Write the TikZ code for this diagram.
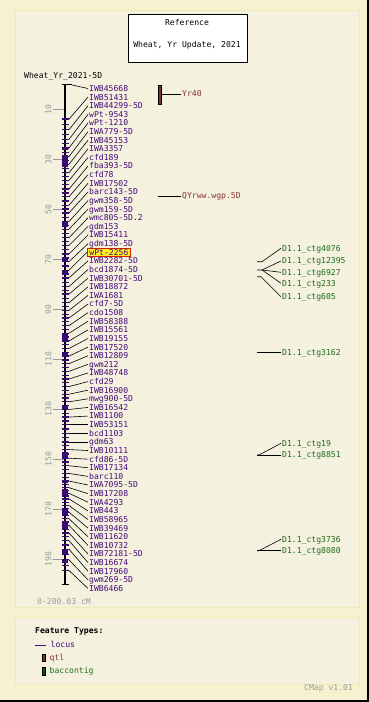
\documentclass[tikz,border=0pt]{standalone}
\usepackage{fontspec}
\newfontfamily\cmapfont{DejaVu Sans Mono}
\definecolor{bgout}{HTML}{F6F2CF}
\definecolor{bgin}{HTML}{F4F2DE}
\definecolor{pborder}{HTML}{F0EAB4}
\definecolor{locus}{HTML}{44087A}
\definecolor{locustick}{HTML}{3A0A70}
\definecolor{qtltext}{HTML}{8B3030}
\definecolor{qtlbar}{HTML}{6E3A32}
\definecolor{bactext}{HTML}{1E6B1E}
\definecolor{bacbar}{HTML}{1C4A1C}
\definecolor{scalegray}{HTML}{999999}
\definecolor{hlyellow}{HTML}{FFEE22}
\definecolor{hlred}{HTML}{CC2200}
\begin{document}
\def\dlist{{-3.5,22,24,25,25,25,24,24,23,23,22,22,21,21,20,20,19,19,18,18,17,17,16,16,15,14,13,12,11,10,9,8,7,6,5,4,3,2,1,0,0,0,-1,-1,-2,-3,-4,-6,-9,-12,-14,-16,-18,-20,-21,-22,-22,-20,-18}}
\begin{tikzpicture}[x=1pt,y=-1pt,
  every node/.style={font=\cmapfont\fontsize{8.1}{9}\selectfont},
  lab/.style={text=locus, inner xsep=1pt, inner ysep=0pt, text height=5.8pt, text depth=0pt},
  hl/.style={lab, draw=hlred, fill=hlyellow, line width=0.9pt, inner xsep=2pt, inner ysep=1pt},
  qlab/.style={lab, text=qtltext},
  blab/.style={lab, text=bactext},
  conn/.style={black, line width=0.6pt},
  ltick/.style={locustick, line width=1.3pt},
  sclab/.style={text=scalegray, inner sep=0pt, rotate=90},
  panel/.style={fill=bgin, draw=pborder, line width=1pt}]
% background and panels
\fill[bgout] (0,0) rectangle (369,702);
\fill[black] (367,0) rectangle (369,702);
\fill[black] (0,700) rectangle (369,702);
\draw[panel] (15,10) rectangle (359,607);
\draw[panel] (15,617) rectangle (359,684);
% title
\node[draw=black, fill=white, line width=0.8pt, minimum width=119pt, minimum height=48pt, inner sep=0pt] (title) at (187.5,38) {};
\node[inner sep=0pt] (t1) at (187,22.7) {Reference};
\node[inner sep=0pt] (t2) at (187,45) {Wheat, Yr Update, 2021};
\node[anchor=west, inner sep=0pt] (mapname) at (24,76.7) {Wheat\_Yr\_2021-5D};
% scale ticks
\foreach \v in {10,30,...,190}{
  \pgfmathsetmacro\yy{84.3+2.5*\v}
  \coordinate (sa\v) at (53,\yy);
  \coordinate (sb\v) at (65,\yy);
  \draw[scalegray, line width=0.7pt] (sa\v) -- (sb\v);
  \node[sclab] (sl\v) at (48.5,\yy) {\v};
}
% chromosome
\coordinate (ctop) at (65,84.5);
\coordinate (cbot) at (65,584.3);
\draw[black, line width=1.8pt] (ctop) -- (cbot);
\draw[black, line width=1.2pt] (61.5,84.5) -- (72,84.5);
\draw[black, line width=1.2pt] (61.5,584.3) -- (68.5,584.3);
% blocks of dense loci
\foreach \a/\b in {147/150,155/167,221/227,258/261,270/273,333/340,352/357,405/410,452/458,480/483,489/495,508/516,523/530,550/555,560/563}{
  \fill[locustick] (61.8,\a) rectangle (68.2,\b);
}
% loci
\foreach \t [count=\i from 0] in {IWB45668,IWB51431,IWB44299-5D,wPt-9543,wPt-1210,IWA779-5D,IWB45153,IWA3357,cfd189,fba393-5D,cfd78,IWB17502,barc143-5D,gwm358-5D,gwm159-5D,wmc805-5D.2,gdm153,IWB15411,gdm138-5D,wPt-2256,IWB2282-5D,bcd1874-5D,IWB30701-5D,IWB18872,IWA1681,cfd7-5D,cdo1508,IWB58388,IWB15561,IWB19155,IWB17520,IWB12809,gwm212,IWB48748,cfd29,IWB16900,mwg900-5D,IWB16542,IWB1100,IWB53151,bcd1103,gdm63,IWB10111,cfd86-5D,IWB17134,barc110,IWA7095-5D,IWB17208,IWA4293,IWB443,IWB58965,IWB39469,IWB11620,IWB10732,IWB72181-5D,IWB16674,IWB17960,gwm269-5D,IWB6466}{
  \pgfmathsetmacro\L{88.5+8.62*\i}
  \pgfmathsetmacro\P{\L+\dlist[\i]}
  \ifnum\i=0 \def\px{72}\else\def\px{69}\fi
  \coordinate (p\i) at (\px,\P);
  \ifnum\i=0\else\draw[ltick] (61.5,\P) -- (68.5,\P);\fi
  \ifnum\i<58
    \pgfmathsetmacro\Pn{88.5+8.62*(\i+1)+\dlist[\i+1]}
    \pgfmathsetmacro\Pm{(\P+\Pn)/2}
    \ifnum\i>0 \draw[ltick] (61.5,\Pm) -- (68.5,\Pm);\fi
  \fi
  \ifnum\i=19
    \node[hl, anchor=west] (l\i) at (87,\L) {\t};
  \else
    \node[lab, anchor=west] (l\i) at (88,\L) {\t};
  \fi
  \draw[conn] (p\i) -- (l\i.west);
}
% QTLs
\draw[fill=qtlbar, draw=black, line width=0.6pt] (158.3,85) rectangle (161.7,104.3);
\coordinate (q1) at (161.7,94);
\node[qlab, anchor=west] (yr40) at (181,94) {Yr40};
\draw[conn] (q1) -- (yr40.west);
\coordinate (q2) at (158,196);
\node[qlab, anchor=west] (qyr) at (181,196) {QYrww.wgp.5D};
\draw[conn] (q2) -- (qyr.west);
% bac contigs
\coordinate (ba) at (257,261.7); \coordinate (bak) at (262,261.7);
\coordinate (bb) at (257,270);   \coordinate (bbk) at (262,270);
\coordinate (bc) at (257,276.7); \coordinate (bck) at (261,276.7);
\coordinate (bd) at (257,352.7);
\coordinate (be) at (257,455);   \coordinate (bek) at (259,455);
\coordinate (bf) at (257,550.7); \coordinate (bfk) at (259,550.7);
\node[blab, anchor=west] (g1) at (281,248.3) {D1.1\_ctg4076};
\node[blab, anchor=west] (g2) at (281,261)   {D1.1\_ctg12395};
\node[blab, anchor=west] (g3) at (281,272.3) {D1.1\_ctg6927};
\node[blab, anchor=west] (g4) at (281,283.3) {D1.1\_ctg233};
\node[blab, anchor=west] (g5) at (281,296.7) {D1.1\_ctg605};
\node[blab, anchor=west] (g6) at (281,352.7) {D1.1\_ctg3162};
\node[blab, anchor=west] (g7) at (281,443.3) {D1.1\_ctg19};
\node[blab, anchor=west] (g8) at (281,455)   {D1.1\_ctg8851};
\node[blab, anchor=west] (g9) at (281,539.3) {D1.1\_ctg3736};
\node[blab, anchor=west] (g10) at (281,550.7) {D1.1\_ctg8080};
\draw[conn] (ba) -- (bak) -- (g1.west);
\draw[conn] (bb) -- (bbk) -- (g2.west);
\draw[conn] (bbk) -- (g3.west);
\draw[conn] (bbk) -- (g4.west);
\draw[conn] (bc) -- (bck) -- (g5.west);
\draw[conn] (bd) -- (g6.west);
\draw[conn] (be) -- (bek) -- (g7.west);
\draw[conn] (be) -- (g8.west);
\draw[conn] (bf) -- (bfk) -- (g9.west);
\draw[conn] (bf) -- (g10.west);
% scale range
\node[anchor=west, inner sep=0pt, text=scalegray] (range) at (37,601.7) {0-200.03 cM};
% legend
\node[anchor=west, inner sep=0pt, font=\cmapfont\bfseries\fontsize{8.1}{9}\selectfont] (ft) at (35,631.7) {Feature Types:};
\coordinate (lg1) at (35,645); \coordinate (lg2) at (46,645);
\draw[locus, line width=0.8pt] (lg1) -- (lg2);
\node[lab, anchor=west, inner xsep=0pt] (lgl) at (50.5,645) {locus};
\draw[fill=qtlbar, draw=black, line width=0.5pt] (42.7,654) rectangle (45,661.7);
\node[qlab, anchor=west, inner xsep=0pt] (lgq) at (49.5,658) {qtl};
\draw[fill=bacbar, draw=black, line width=0.5pt] (42.7,667) rectangle (45,675);
\node[blab, anchor=west, inner xsep=0pt] (lgb) at (49.5,671) {baccontig};
\node[anchor=west, inner sep=0pt, text=scalegray] (ver) at (304,688.3) {CMap v1.01};
\end{tikzpicture}
\end{document}
